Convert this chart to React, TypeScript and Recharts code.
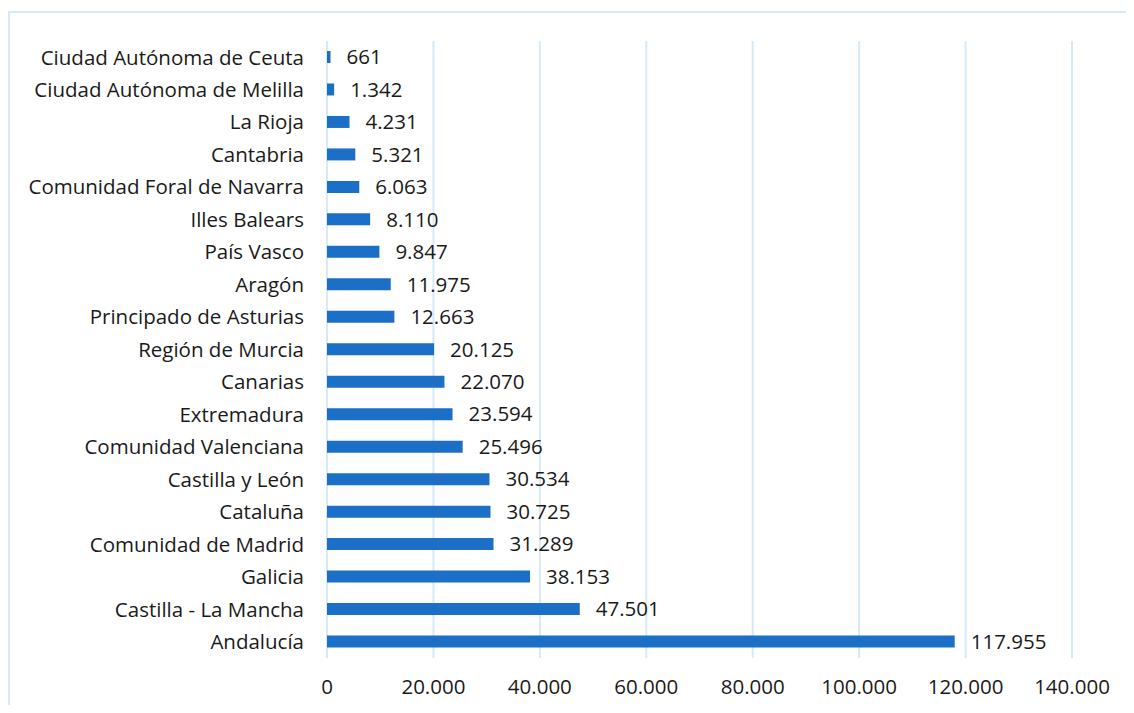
import { BarChart, Bar, XAxis, YAxis, CartesianGrid, LabelList } from "recharts";

const regions = [
  "Ciudad Autónoma de Ceuta",
  "Ciudad Autónoma de Melilla",
  "La Rioja",
  "Cantabria",
  "Comunidad Foral de Navarra",
  "Illes Balears",
  "País Vasco",
  "Aragón",
  "Principado de Asturias",
  "Región de Murcia",
  "Canarias",
  "Extremadura",
  "Comunidad Valenciana",
  "Castilla y León",
  "Cataluña",
  "Comunidad de Madrid",
  "Galicia",
  "Castilla - La Mancha",
  "Andalucía",
];

const values = [
  661, 1342, 4231, 5321, 6063, 8110, 9847, 11975, 12663, 20125, 22070, 23594,
  25496, 30534, 30725, 31289, 38153, 47501, 117955,
];

const xTicks = [0, 20000, 40000, 60000, 80000, 100000, 120000, 140000];

const data = regions.map((name, i) => ({ name, value: values[i] }));

const fmt = (v: number | string) =>
  String(v).replace(/\B(?=(\d{3})+(?!\d))/g, ".");

const FONT = "'Open Sans', sans-serif";
const FS = 20.5;

export default function App() {
  return (
    <div style={{ width: 1118, height: 697, overflow: "hidden", position: "relative", fontFamily: FONT }}>
      <div
        style={{
          position: "absolute",
          left: 0,
          top: 3,
          width: 1200,
          height: 800,
          borderLeft: "2px solid #d6e9f8",
          borderTop: "2px solid #d6e9f8",
        }}
      />
      <BarChart
        width={1118}
        height={697}
        data={data}
        layout="vertical"
        margin={{ top: 33, right: 54, bottom: 0, left: 0 }}
        style={{ position: "absolute", left: 0, top: 0 }}
      >
        <CartesianGrid horizontal={false} stroke="#d6e9f8" strokeWidth={2} />
        <XAxis
          type="number"
          domain={[0, 140000]}
          ticks={xTicks}
          tickFormatter={fmt}
          axisLine={false}
          tickLine={false}
          tickMargin={15}
          height={47}
          tick={{ fill: "#1a1a1a", fontSize: FS, fontFamily: FONT }}
        />
        <YAxis
          type="category"
          dataKey="name"
          width={319}
          axisLine={false}
          tickLine={false}
          tickMargin={17}
          interval={0}
          tick={{ fill: "#1a1a1a", fontSize: FS, fontFamily: FONT }}
        />
        <Bar dataKey="value" fill="#1c6fc7" barSize={12} isAnimationActive={false}>
          <LabelList
            dataKey="value"
            position="right"
            offset={16}
            formatter={fmt}
            style={{ fill: "#1a1a1a", fontSize: FS, fontFamily: FONT }}
          />
        </Bar>
      </BarChart>
    </div>
  );
}
